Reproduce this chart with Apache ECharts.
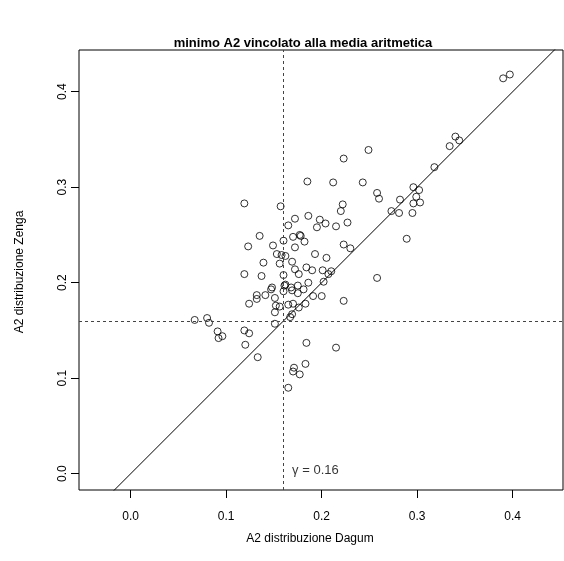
<!DOCTYPE html>
<html>
<head>
<meta charset="utf-8">
<script src="https://cdn.jsdelivr.net/npm/echarts@6/dist/echarts.min.js"></script>
<style>html,body{margin:0;padding:0;background:#fff}#c{width:564px;height:561px}</style>
</head>
<body>
<div id="c"></div>
<script>
// A2 distribuzione Dagum (x) vs A2 distribuzione Zenga (y)
const dagum = [0.390,0.397,0.334,0.340,0.344,0.318,0.249,0.223,0.185,0.212,0.243,0.258,0.260,0.296,0.302,0.299,0.282,0.296,0.303,0.273,0.281,0.295,0.289,0.222,0.220,0.119,0.157,0.172,0.165,0.186,0.198,0.204,0.195,0.215,0.227,0.135,0.170,0.177,0.178,0.182,0.123,0.149,0.160,0.172,0.223,0.230,0.153,0.158,0.162,0.193,0.139,0.156,0.169,0.205,0.184,0.190,0.172,0.201,0.210,0.207,0.119,0.137,0.160,0.176,0.202,0.186,0.161,0.162,0.168,0.169,0.175,0.181,0.148,0.147,0.160,0.175,0.141,0.132,0.132,0.151,0.191,0.200,0.124,0.152,0.156,0.165,0.170,0.183,0.176,0.223,0.151,0.169,0.167,0.151,0.067,0.080,0.082,0.091,0.092,0.096,0.119,0.124,0.120,0.133,0.184,0.215,0.171,0.170,0.177,0.183,0.165,0.258];
const zenga = [0.414,0.418,0.343,0.353,0.349,0.321,0.339,0.330,0.306,0.305,0.305,0.294,0.288,0.300,0.297,0.290,0.287,0.283,0.284,0.275,0.273,0.273,0.246,0.282,0.275,0.283,0.280,0.267,0.260,0.270,0.266,0.262,0.258,0.259,0.263,0.249,0.248,0.250,0.249,0.243,0.238,0.239,0.244,0.237,0.240,0.236,0.230,0.229,0.228,0.230,0.221,0.220,0.222,0.226,0.216,0.213,0.214,0.213,0.212,0.209,0.209,0.207,0.208,0.209,0.201,0.200,0.197,0.198,0.195,0.192,0.197,0.193,0.195,0.193,0.191,0.189,0.187,0.187,0.183,0.184,0.186,0.186,0.178,0.176,0.175,0.177,0.178,0.178,0.174,0.181,0.169,0.167,0.164,0.157,0.161,0.163,0.158,0.149,0.142,0.144,0.150,0.147,0.135,0.122,0.137,0.132,0.111,0.107,0.104,0.115,0.090,0.205];
const xTicks = [0.0, 0.1, 0.2, 0.3, 0.4];
const yTicks = [0.0, 0.1, 0.2, 0.3, 0.4];
const gammaValue = 0.16;
const identityLine = [[-0.1, -0.1], [0.6, 0.6]];
const gammaLabel = 'γ = 0.16';

const points = dagum.map((x, i) => [x, zenga[i]]);
const chart = echarts.init(document.getElementById('c'), null, {renderer: 'canvas'});
const FONT = 'Liberation Sans, Arial, Helvetica, sans-serif';
const X0 = 79, X1 = 563, Y0 = 50, Y1 = 490;
// pixel scale: 0.0 at 130.7px, 955 px per unit
const xMin = (X0 - 130.7) / 955, xMax = (X1 - 130.7) / 955;
const yMin = (473.7 - Y1) / 955, yMax = (473.7 - Y0) / 955;

chart.setOption({
  animation: false,
  backgroundColor: '#fff',
  title: [{
    text: 'minimo A2 vincolato alla media aritmetica',
    left: 298, top: 32, textAlign: 'center',
    textStyle: {fontFamily: FONT, fontSize: 13, fontWeight: 'bold', color: '#000'}
  }, {
    text: 'A2 distribuzione Dagum',
    left: 305, top: 528, textAlign: 'center',
    textStyle: {fontFamily: FONT, fontSize: 12, fontWeight: 'normal', color: '#000'}
  }],
  graphic: [{
    type: 'text', x: 20, y: 272, rotation: Math.PI / 2,
    style: {text: 'A2 distribuzione Zenga', font: '12px ' + FONT, fill: '#000', align: 'center', verticalAlign: 'middle'}
  }],
  grid: {left: X0, top: Y0, width: X1 - X0, height: Y1 - Y0, show: true, borderColor: '#000', borderWidth: 1, backgroundColor: 'transparent'},
  xAxis: {
    type: 'value', min: xMin, max: xMax,
    axisLine: {show: false, onZero: false},
    splitLine: {show: false},
    axisTick: {show: true, length: 8, customValues: xTicks, lineStyle: {color: '#000'}},
    axisLabel: {customValues: xTicks, margin: 21, formatter: v => v.toFixed(1), color: '#000', fontFamily: FONT, fontSize: 12}
  },
  yAxis: {
    type: 'value', min: yMin, max: yMax,
    axisLine: {show: false, onZero: false},
    splitLine: {show: false},
    axisTick: {show: true, length: 8, customValues: yTicks, lineStyle: {color: '#000'}},
    axisLabel: {customValues: yTicks, margin: 10, rotate: 90, formatter: v => v.toFixed(1), color: '#000', fontFamily: FONT, fontSize: 12}
  },
  series: [{
    type: 'scatter',
    data: points,
    symbol: 'circle', symbolSize: 7,
    itemStyle: {color: 'rgba(0,0,0,0)', borderColor: '#000', borderWidth: 1},
    markLine: {
      silent: true, symbol: 'none', animation: false,
      label: {show: false},
      lineStyle: {color: '#444', type: [3, 3], width: 1},
      data: [{xAxis: gammaValue}, {yAxis: gammaValue}]
    },
    z: 3
  }, {
    type: 'line',
    data: identityLine,
    symbol: 'none', clip: true,
    lineStyle: {color: '#000', width: 1},
    z: 2
  }, {
    type: 'scatter',
    data: [[gammaValue + 0.009, 0.003]],
    symbolSize: 0,
    label: {show: true, position: 'right', distance: 0, formatter: gammaLabel, color: '#000', fontFamily: FONT, fontSize: 13},
    z: 4
  }]
});
</script>
</body>
</html>
